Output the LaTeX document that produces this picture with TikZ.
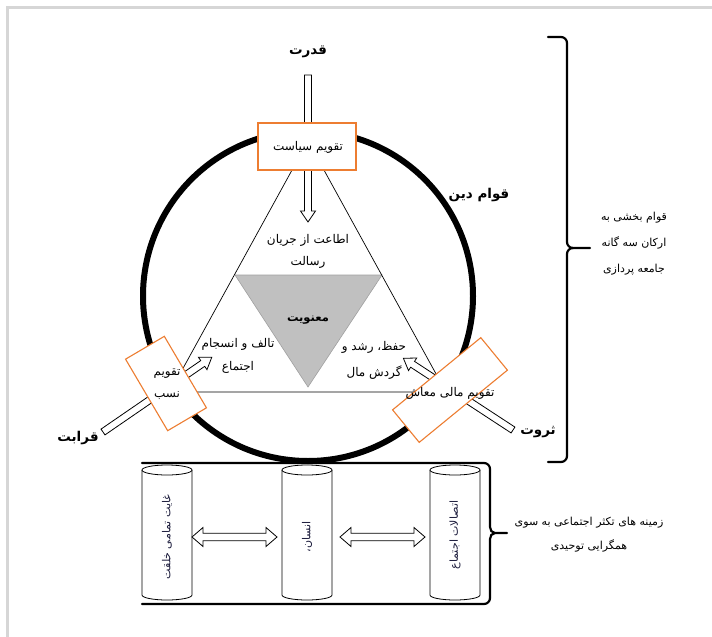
\documentclass[tikz,border=0pt]{standalone}
\usepackage{fontspec}
\newfontfamily\fafont[Script=Arabic]{DejaVu Sans}
\TeXXeTstate=1
\newcommand{\RL}[1]{\beginR#1\endR}
\definecolor{boxorange}{HTML}{ED7D31}
\definecolor{framegray}{HTML}{D6D6D6}
\definecolor{trigray}{HTML}{C0C0C0}
\definecolor{trigrayedge}{HTML}{A0A0A0}
\definecolor{cyltext}{HTML}{1C1C3C}
% hollow single arrow: tail coordinate, visual angle, length
\newcommand{\hollowarrow}[3]{%
  \begin{scope}[shift={#1},rotate=#2]
    \draw[harrowstyle] (0,-3.5) -- ({#3-11},-3.5) -- ({#3-11},-7.5) -- (#3,0)
      -- ({#3-11},7.5) -- ({#3-11},3.5) -- (0,3.5) -- cycle;
  \end{scope}}
% hollow double arrow: left end coordinate, length
\newcommand{\hollowdouble}[2]{%
  \begin{scope}[shift={#1}]
    \draw[harrowstyle] (0,0) -- (11,-9.5) -- (11,-3.8) -- ({#2-11},-3.8) -- ({#2-11},-9.5)
      -- (#2,0) -- ({#2-11},9.5) -- ({#2-11},3.8) -- (11,3.8) -- (11,9.5) -- cycle;
  \end{scope}}
% cylinder: centre x
\newcommand{\cylinderat}[1]{%
  \draw[cyl] ({#1-25},470) -- ({#1-25},595)
    arc[start angle=180,end angle=360,x radius=25pt,y radius=5pt] -- ({#1+25},470);
  \draw[cyl] (#1,470) ellipse[x radius=25pt,y radius=5pt];}
\begin{document}
\begin{tikzpicture}[x=1pt,y=-1pt,
  fa/.style={font=\fafont\fontsize{12}{#1}\selectfont, inner sep=0pt, align=center},
  fa/.default=22,
  fas/.style={font=\fafont\fontsize{11}{#1}\selectfont, inner sep=0pt, align=center},
  fas/.default=24,
  fab/.style={font=\fafont\bfseries\fontsize{13.5}{16}\selectfont, inner sep=0pt},
  obox/.style={draw=boxorange, line width=1.1pt, fill=white, inner sep=0pt},
  harrowstyle/.style={draw=black, fill=white, line width=0.8pt, line join=miter},
  ring/.style={line width=6pt},
  thinline/.style={line width=0.7pt},
  bracestyle/.style={line width=2.2pt, line cap=round},
  cyl/.style={draw=black, fill=white, line width=0.8pt},
  cyllabel/.style={font=\fafont\fontsize{11}{13}\selectfont, text=cyltext, rotate=90, inner sep=0pt},
]
\useasboundingbox (0,0) rectangle (712,637);
\fill[white] (0,0) rectangle (712,637);
% frame
\draw[framegray, line width=3pt] (7,637) -- (7,7) -- (712,7);

% ring
\coordinate (ringc) at (308,296);
\draw[ring] (ringc) circle[radius=165pt];

% triangles
\coordinate (tA) at (308,141);
\coordinate (tL) at (170,392);
\coordinate (tR) at (446,392);
\coordinate (gL) at (235,275);
\coordinate (gR) at (382,275);
\coordinate (gB) at (308,387);
\draw[fill=trigray, draw=trigrayedge, line width=0.6pt] (gL) -- (gR) -- (gB) -- cycle;
\draw[thinline] (tA) -- (tL) -- (tR) -- cycle;

% hollow arrows
\coordinate (qtail) at (308,75);
\coordinate (ktail) at (103,432);
\coordinate (stail) at (513,430);
\hollowarrow{(qtail)}{-90}{147}
\hollowarrow{(ktail)}{34.5}{132}
\hollowarrow{(stail)}{146.8}{131}

% boxes
\node[obox, minimum width=98pt, minimum height=47pt] (boxpol) at (307,146.5) {};
\node[obox, rotate=30.5, minimum width=45pt, minimum height=83pt] (boxnas) at (166,383.5) {};
\node[obox, rotate=39.3, minimum width=114pt, minimum height=42pt] (boxmal) at (450,390) {};

% texts
\node[fab] (qudrat) at (308,52) {\RL{قدرت}};
\node[fab] (qawam) at (479,195) {\RL{قوام دین}};
\node[fab] (qarabat) at (78,438) {\RL{قرابت}};
\node[fab] (tharwat) at (538,432) {\RL{ثروت}};
\node[fa] (polt) at (308,147) {\RL{تقویم سیاست}};
\node[fa] (obey) at (308,251) {\RL{اطاعت از جریان}\\\RL{رسالت}};
\node[fab, font=\fafont\bfseries\fontsize{11.5}{14}\selectfont] (maanaviat) at (308,320) {\RL{معنویت}};
\node[fa=23] (olfat) at (238,356) {\RL{تالف و انسجام}\\\RL{اجتماع}};
\node[fa=26] (hefz) at (374,360) {\RL{حفظ، رشد و}\\\RL{گردش مال}};
\node[fa] (nasabt) at (167,384) {\RL{تقویم}\\\RL{نسب}};
\node[fa] (malt) at (450,393) {\RL{تقویم مالی معاش}};

% right brace
\draw[bracestyle] (548,37) -- (561,37) to[out=0,in=90] (567,43) -- (567,242)
  to[out=-90,in=180] (573,248) -- (590,248);
\draw[bracestyle] (573,248) to[out=180,in=90] (567,254) -- (567,456)
  to[out=-90,in=0] (561,462) -- (548,462);
\node[fas=26] (rukn) at (634,244) {\RL{قوام بخشی به}\\\RL{ارکان سه گانه}\\\RL{جامعه پردازی}};

% bottom frame with brace
\draw[bracestyle] (142,463) -- (484,463) to[out=0,in=90] (490,469) -- (490,527)
  to[out=-90,in=180] (495,533) -- (507,533);
\draw[bracestyle] (495,533) to[out=180,in=90] (490,539) -- (490,598)
  to[out=-90,in=0] (484,604) -- (142,604);
\node[fas=24] (zamine) at (589,535) {\RL{زمینه های تکثر اجتماعی به سوی}\\\RL{همگرایی توحیدی}};

% cylinders
\cylinderat{167}
\cylinderat{307}
\cylinderat{455}
\node[cyllabel] (cylA) at (167,537) {\RL{غایت تمامی خلقت}};
\node[cyllabel] (cylB) at (307,537) {\RL{انسان،}};
\node[cyllabel] (cylC) at (455,535) {\RL{اتصالات اجتماع}};
\coordinate (dA) at (192,537);
\coordinate (dB) at (340,537);
\hollowdouble{(dA)}{85}
\hollowdouble{(dB)}{85}
\end{tikzpicture}
\end{document}
